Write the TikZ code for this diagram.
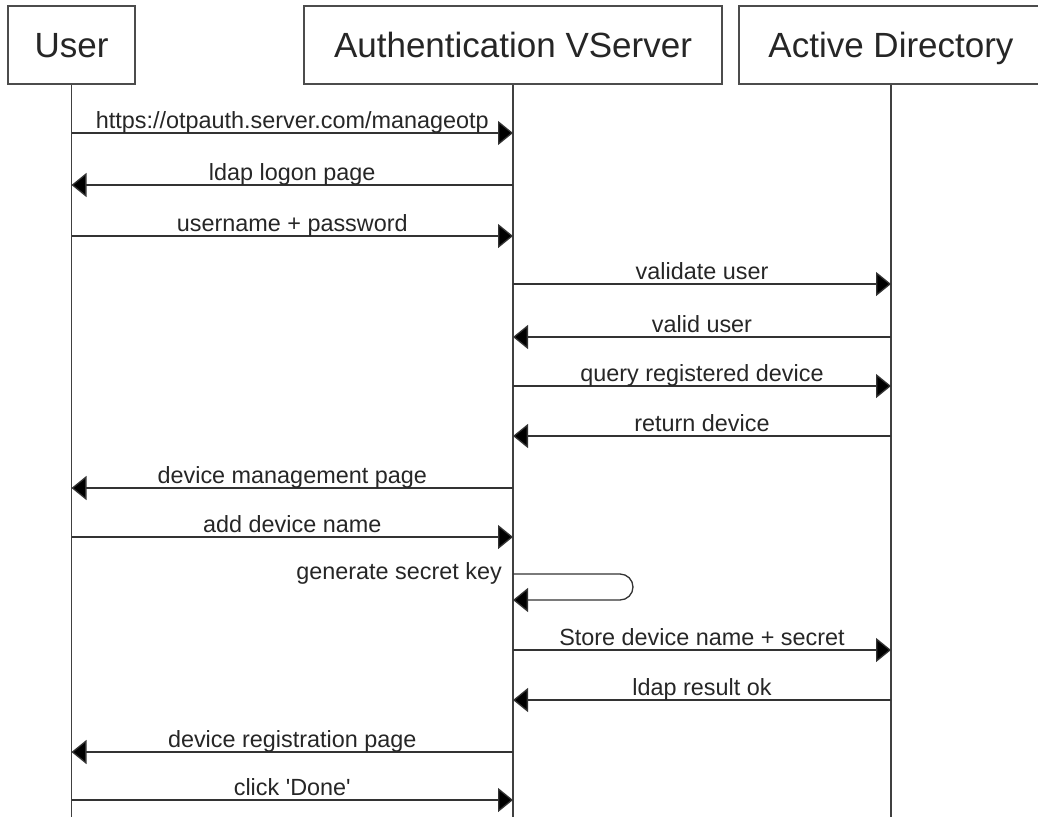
\documentclass[tikz,border=0pt]{standalone}
\usepackage{fontspec}
\setmainfont{Liberation Sans}
\usetikzlibrary{arrows.meta}

\tikzset{
	actor/.style={draw=black!70, line width=1.4pt, fill=white, minimum height=78pt,
		inner sep=0pt, text height=25pt, text depth=0pt, text=black!85,
		font=\fontsize{35}{40}\selectfont},
	lifeline/.style={draw=black!75, line width=1.3pt},
	msg/.style={draw=black!80, line width=1.3pt, -{Triangle[length=15pt,width=24pt,fill=black]}},
	msglabel/.style={anchor=base, inner sep=0pt, yshift=5pt, text=black!85,
		font=\fontsize{23.4}{26}\selectfont}
}

\begin{document}
\begin{tikzpicture}[x=1pt,y=-1pt]
	\useasboundingbox (0,0) rectangle (1038,817);
	
	%Teilnehmer
	\node[actor, minimum width=127pt] (user) at (71.5,45) {User};
	\node[actor, minimum width=418pt] (auth) at (513,45) {Authentication VServer};
	\node[actor, minimum width=304pt] (ad) at (891,45) {Active Directory};
	
	%Lebenslinien
	\coordinate (userEnd) at (user |- 0,817);
	\coordinate (authEnd) at (auth |- 0,817);
	\coordinate (adEnd) at (ad |- 0,817);
	\draw[lifeline] (user.south) -- (userEnd);
	\draw[lifeline] (auth.south) -- (authEnd);
	\draw[lifeline] (ad.south) -- (adEnd);
	
	%Anmeldung
	\draw[msg] (user |- 0,133) -- node[msglabel] {https://otpauth.server.com/manageotp} (auth |- 0,133);
	\draw[msg] (auth |- 0,185) -- node[msglabel] {ldap logon page} (user |- 0,185);
	\draw[msg] (user |- 0,236) -- node[msglabel] {username + password} (auth |- 0,236);
	\draw[msg] (auth |- 0,284) -- node[msglabel] {validate user} (ad |- 0,284);
	\draw[msg] (ad |- 0,337) -- node[msglabel] {valid user} (auth |- 0,337);
	\draw[msg] (auth |- 0,386) -- node[msglabel] {query registered device} (ad |- 0,386);
	\draw[msg] (ad |- 0,436) -- node[msglabel] {return device} (auth |- 0,436);
	\draw[msg] (auth |- 0,488) -- node[msglabel] {device management page} (user |- 0,488);
	\draw[msg] (user |- 0,537) -- node[msglabel] {add device name} (auth |- 0,537);
	
	%Schluessel
	\coordinate (loopTop) at (auth |- 0,574);
	\coordinate (loopBot) at (auth |- 0,600);
	\draw[msg, rounded corners=13pt] (loopTop) -- ++(120,0) -- ++(0,26) -- (loopBot);
	\node[msglabel, anchor=base east, xshift=-11pt, yshift=-10pt] (keyLabel) at (loopTop) {generate secret key};
	
	%Registrierung
	\draw[msg] (auth |- 0,650) -- node[msglabel] {Store device name + secret} (ad |- 0,650);
	\draw[msg] (ad |- 0,700) -- node[msglabel] {ldap result ok} (auth |- 0,700);
	\draw[msg] (auth |- 0,752) -- node[msglabel] {device registration page} (user |- 0,752);
	\draw[msg] (user |- 0,800) -- node[msglabel] {click \textquotesingle Done\textquotesingle} (auth |- 0,800);
	
\end{tikzpicture}
\end{document}
